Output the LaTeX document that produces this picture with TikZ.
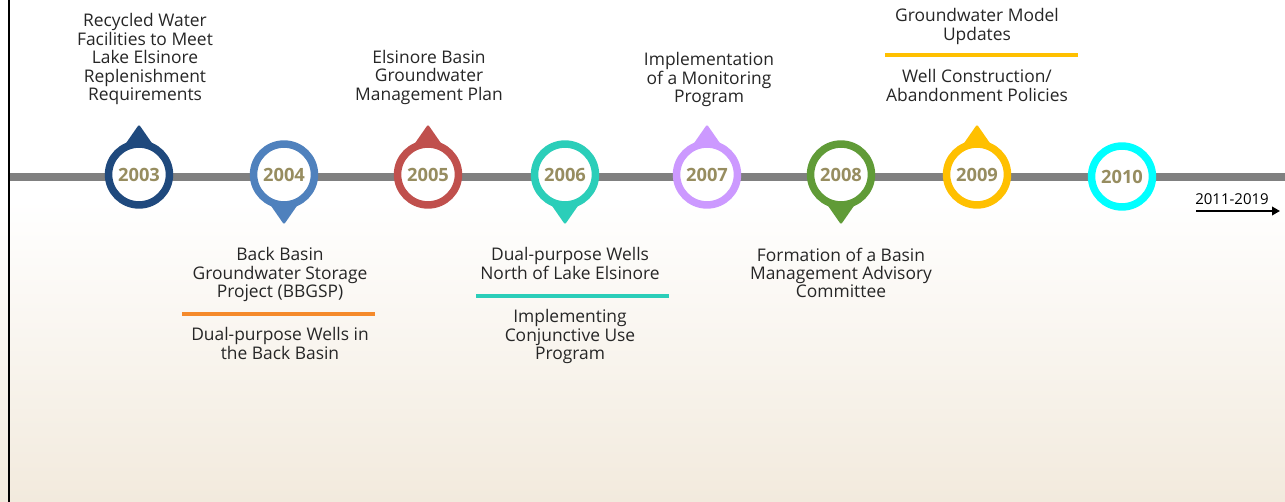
\documentclass[tikz,border=0pt]{standalone}
\usepackage{fontspec}
\setmainfont{Open Sans}
\usetikzlibrary{arrows.meta}
\definecolor{txt}{RGB}{38,38,38}
\definecolor{yr}{RGB}{151,141,96}
\definecolor{barg}{RGB}{128,128,128}
\definecolor{c03}{RGB}{31,73,125}
\definecolor{c04}{RGB}{79,129,189}
\definecolor{c05}{RGB}{192,80,77}
\definecolor{c06}{RGB}{43,206,185}
\definecolor{c07}{RGB}{204,153,255}
\definecolor{c08}{RGB}{96,155,55}
\definecolor{c09}{RGB}{255,192,0}
\definecolor{c10}{RGB}{0,255,255}
\definecolor{orn}{RGB}{245,138,43}
\definecolor{bgb}{RGB}{242,234,221}
\definecolor{bgm}{RGB}{249,246,240}
\begin{document}
\begin{tikzpicture}[x=1pt,y=-1pt,
  lbl/.style={anchor=north, align=center, inner sep=0pt, text=txt, font=\fontsize{17.4}{18.4}\selectfont},
  yearring/.style={circle, draw=#1, line width=7.5pt, fill=white, minimum size=60.9pt, inner sep=0pt, text=yr, font=\fontsize{18.3}{20}\selectfont\bfseries},
  sepline/.style={line width=3.4pt},
  timebar/.style={barg, line width=8pt}
]
\useasboundingbox (0,0) rectangle (1285,502);
\fill[white] (0,0) rectangle (1285,200);
\shade[top color=white, middle color=bgm, bottom color=bgb] (0,200) rectangle (1285,502);
\draw[line width=2.5pt] (9,0) -- (9,502);

% timeline bar
\coordinate (barL) at (10,177);
\coordinate (barR) at (1285,177);
\draw[timebar] (barL) -- (barR);

% marker positions
\coordinate (p2003) at (139,174.5);
\coordinate (p2004) at (284,174.5);
\coordinate (p2005) at (428,174.5);
\coordinate (p2006) at (565,174.5);
\coordinate (p2007) at (707,174.5);
\coordinate (p2008) at (841,174.5);
\coordinate (p2009) at (977,174.5);
\coordinate (p2010) at (1122,176.5);

% pointers
\fill[c03, rounded corners=1.5pt] (p2003) ++(-16,-27) -- ++(16,-23) -- ++(16,23) -- cycle;
\fill[c04, rounded corners=1.5pt] (p2004) ++(-16,27) -- ++(16,23) -- ++(16,-23) -- cycle;
\fill[c05, rounded corners=1.5pt] (p2005) ++(-16,-27) -- ++(16,-23) -- ++(16,23) -- cycle;
\fill[c06, rounded corners=1.5pt] (p2006) ++(-16,27) -- ++(16,23) -- ++(16,-23) -- cycle;
\fill[c07, rounded corners=1.5pt] (p2007) ++(-16,-27) -- ++(16,-23) -- ++(16,23) -- cycle;
\fill[c08, rounded corners=1.5pt] (p2008) ++(-16,27) -- ++(16,23) -- ++(16,-23) -- cycle;
\fill[c09, rounded corners=1.5pt] (p2009) ++(-16,-27) -- ++(16,-23) -- ++(16,23) -- cycle;

% year circles
\node[yearring=c03] (y2003) at (p2003) {2003};
\node[yearring=c04] (y2004) at (p2004) {2004};
\node[yearring=c05] (y2005) at (p2005) {2005};
\node[yearring=c06] (y2006) at (p2006) {2006};
\node[yearring=c07] (y2007) at (p2007) {2007};
\node[yearring=c08] (y2008) at (p2008) {2008};
\node[yearring=c09] (y2009) at (p2009) {2009};
\node[yearring=c10] (y2010) at (p2010) {2010};

% labels above
\node[lbl] (t2003) at (145,13.5) {Recycled Water\\Facilities to Meet\\Lake Elsinore\\Replenishment\\Requirements};
\node[lbl] (t2005) at (429,50) {Elsinore Basin\\Groundwater\\Management Plan};
\node[lbl] (t2007) at (709,52.5) {Implementation\\of a Monitoring\\Program};
\node[lbl] (t2009a) at (977,8.5) {Groundwater Model\\Updates};
\coordinate (s09L) at (885,55);
\coordinate (s09R) at (1078,55);
\draw[c09, sepline] (s09L) -- (s09R);
\node[lbl] (t2009b) at (977,69.5) {Well Construction/\\Abandonment Policies};

% labels below
\node[lbl] (t2004a) at (280,247.5) {Back Basin\\Groundwater Storage\\Project (BBGSP)};
\coordinate (s04L) at (182,314);
\coordinate (s04R) at (375,314);
\draw[orn, sepline] (s04L) -- (s04R);
\node[lbl] (t2004b) at (280,327.5) {Dual-purpose Wells in\\the Back Basin};
\node[lbl] (t2006a) at (570,247.5) {Dual-purpose Wells\\North of Lake Elsinore};
\coordinate (s06L) at (476,296);
\coordinate (s06R) at (669,296);
\draw[c06, sepline] (s06L) -- (s06R);
\node[lbl] (t2006b) at (570,309.5) {Implementing\\Conjunctive Use\\Program};
\node[lbl] (t2008) at (841,247.5) {Formation of a Basin\\Management Advisory\\Committee};

% continuation arrow
\node[anchor=base, inner sep=0pt, text=black, font=\fontsize{15}{17}\selectfont] (later) at (1232,205) {2011-2019};
\coordinate (aL) at (1196,211);
\coordinate (aR) at (1280,211);
\draw[line width=2.2pt, -{Triangle[length=8pt,width=8.5pt]}] (aL) -- (aR);
\end{tikzpicture}
\end{document}
